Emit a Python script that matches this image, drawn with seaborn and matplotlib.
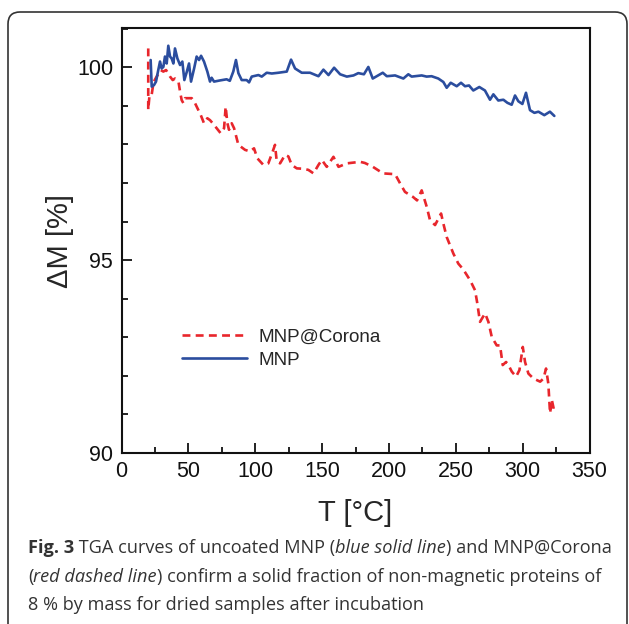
import numpy as np
import pandas as pd
import matplotlib
matplotlib.use("Agg")
import matplotlib.pyplot as plt
import seaborn as sns
from matplotlib.patches import FancyBboxPatch
from matplotlib.transforms import IdentityTransform
from matplotlib.ticker import MultipleLocator

# MNP@Corona (red dashed)
t_corona = [20, 20, 21, 22.6, 24, 26.3, 29.3, 31.3, 33.3, 35, 36.3, 38.3, 40, 42.6, 43.8, 45,
            46.3, 47.5, 50, 52.5, 55, 57.5, 59.3, 61.7, 64.2, 66.2, 68.2, 71.2, 74.2, 76.7,
            77.9, 79.2, 80.4, 82.4, 84.2, 87.4, 92.4, 96.1, 99.1, 101.6, 106.1, 109.8, 113.1,
            114.8, 116.1, 118.6, 122.3, 124.8, 127.3, 131.1, 136.1, 139.8, 143.6, 147.3, 149.8,
            153.5, 158.5, 162.3, 168.5, 178.5, 182, 188, 195.6, 204.6, 209, 212, 218, 221,
            224.5, 228.3, 230.7, 234.5, 239, 240.7, 243.2, 248.2, 251.9, 255.6, 260.7, 264.4,
            266, 268.1, 271.9, 274.4, 276.9, 280.6, 283.1, 285.1, 287.6, 289.4, 291.9, 295.1,
            297.6, 300.1, 301.8, 304.3, 308.1, 313.1, 315.6, 317.5, 319.2, 320.5, 321.8, 323.4]
m_corona = [100.49, 98.9, 99.3, 99.3, 99.62, 99.76, 99.93, 99.89, 99.93, 99.84, 99.76, 99.67,
            99.71, 99.63, 99.37, 99.15, 99.07, 99.2, 99.2, 99.2, 99.07, 98.89, 98.76, 98.55,
            98.68, 98.63, 98.55, 98.42, 98.29, 98.42, 98.98, 98.55, 98.38, 98.55, 98.42, 97.99,
            97.86, 97.82, 97.9, 97.64, 97.47, 97.51, 97.82, 97.99, 97.56, 97.51, 97.73, 97.69,
            97.47, 97.38, 97.37, 97.34, 97.25, 97.47, 97.6, 97.42, 97.68, 97.42, 97.51, 97.55,
            97.52, 97.42, 97.25, 97.23, 96.95, 96.77, 96.64, 96.55, 96.81, 96.38, 96.04, 95.91,
            96.21, 95.95, 95.6, 95.17, 94.91, 94.76, 94.48, 94.22, 93.9, 93.4, 93.62, 93.4,
            93.01, 92.79, 92.79, 92.28, 92.36, 92.28, 92.11, 91.98, 92.15, 92.75, 92.36, 92.06,
            91.93, 91.85, 91.93, 92.19, 91.80, 91.03, 91.38, 91.12]

# uncoated MNP (blue solid)
t_mnp = [21.8, 22.6, 24.3, 25.8, 27.5, 28.8, 30, 31.3, 32.5, 33.8, 35, 36.3, 37.5, 38.8, 40,
         41.8, 43.8, 45.5, 47, 48.8, 50.5, 52, 54.3, 56.2, 58, 59.5, 61.7, 64.2, 66.2, 67.4,
         69.2, 73.6, 78.6, 81, 83.6, 85.6, 87.4, 89.9, 93.6, 95.4, 97.4, 102.4, 104.9, 108.6,
         112.4, 117.4, 123.6, 126.8, 129.8, 134.8, 141, 147.3, 151, 154.8, 159, 163.5, 168.5,
         173.5, 177.1, 181.3, 184.6, 187.9, 195.4, 198.4, 204.6, 210.8, 214.5, 217, 224.5,
         228.2, 231.9, 236.9, 240.7, 243.2, 246.2, 250.7, 253.9, 256.9, 259.9, 263.1, 267.6,
         271.8, 275.6, 278.1, 281.8, 285.6, 288.6, 291.8, 294.3, 296.8, 299.8, 302.5, 305.5,
         308.8, 311.8, 316.2, 320.4, 323.7]
m_mnp = [100.19, 99.5, 99.54, 99.63, 99.93, 100.15, 99.97, 100.01, 100.28, 100.1, 100.56,
         100.28, 100.23, 100.1, 100.49, 100.23, 100.06, 100.15, 99.67, 99.88, 100.1, 99.63,
         99.97, 100.28, 100.19, 100.3, 100.15, 99.89, 99.63, 99.73, 99.63, 99.66, 99.69, 99.65,
         99.89, 100.19, 99.85, 99.67, 99.67, 99.61, 99.76, 99.8, 99.76, 99.86, 99.84, 99.86,
         99.89, 100.2, 99.97, 99.86, 99.86, 99.77, 99.94, 99.8, 99.99, 99.82, 99.76, 99.79,
         99.85, 99.82, 100.01, 99.71, 99.86, 99.77, 99.79, 99.71, 99.82, 99.76, 99.79, 99.76,
         99.77, 99.71, 99.62, 99.47, 99.6, 99.51, 99.6, 99.51, 99.53, 99.4, 99.49, 99.4, 99.16,
         99.3, 99.14, 99.16, 99.08, 99.03, 99.27, 99.12, 99.05, 99.34, 98.89, 98.82, 98.85,
         98.76, 98.85, 98.74]

RED = "#e8262c"
BLUE = "#2b4d9e"

sns.set_theme(style="ticks")
plt.rcParams["font.family"] = ["Liberation Sans", "DejaVu Sans"]

fig = plt.figure(figsize=(6.29, 6.24), dpi=100)
ax = fig.add_axes([121.5 / 629, 1 - 453 / 624, 468 / 629, 425 / 624])

corona = pd.DataFrame({"T": t_corona, "M": m_corona})
mnp = pd.DataFrame({"T": t_mnp, "M": m_mnp})

sns.lineplot(data=corona, x="T", y="M", estimator=None, sort=False, color=RED, lw=1.9,
             linestyle=(0, (3, 2)), label="MNP@Corona", ax=ax)
sns.lineplot(data=mnp, x="T", y="M", estimator=None, sort=False, color=BLUE, lw=1.9,
             label="MNP", ax=ax)

ax.set_xlim(0, 350)
ax.set_ylim(90, 101.02)
ax.xaxis.set_major_locator(MultipleLocator(50))
ax.xaxis.set_minor_locator(MultipleLocator(25))
ax.set_yticks([90, 95, 100])
ax.yaxis.set_minor_locator(MultipleLocator(1))
ax.tick_params(which="both", direction="in", width=1.3, colors="#111111", labelsize=15.5,
               top=False, right=False)
ax.tick_params(which="major", length=7, pad=6)
ax.tick_params(which="minor", length=4)
for s in ax.spines.values():
    s.set_linewidth(1.5)
    s.set_color("#111111")
    s.set_visible(True)

ax.set_xlabel("T [°C]", fontsize=21, labelpad=12)
ax.set_ylabel("ΔM [%]", fontsize=21, labelpad=2)

leg = ax.legend(loc="upper left", bbox_to_anchor=(0.094, 0.333), frameon=False,
                fontsize=13.6, handlelength=3.4, handletextpad=0.65, labelspacing=0.3)

# outer rounded frame (display pixels, origin bottom-left)
frame = FancyBboxPatch((8, -30), 619, 642, boxstyle="round,pad=0,rounding_size=12",
                       transform=IdentityTransform(), fill=False, ec="#333333", lw=1.2)
fig.add_artist(frame)

# caption with mixed bold / italic runs
cap_lines = [
    [("Fig. 3", "bold", "normal"), (" TGA curves of uncoated MNP (", "normal", "normal"),
     ("blue solid line", "normal", "italic"), (") and MNP@Corona", "normal", "normal")],
    [("(", "normal", "normal"), ("red dashed line", "normal", "italic"),
     (") confirm a solid fraction of non-magnetic proteins of", "normal", "normal")],
    [("8 % by mass for dried samples after incubation", "normal", "normal")],
]
cap_y = [548, 577, 605]
fig.canvas.draw()
renderer = fig.canvas.get_renderer()
for runs, yy in zip(cap_lines, cap_y):
    x = 28
    for txt, wt, st in runs:
        t = fig.text(x / 629, 1 - yy / 624, txt, fontsize=13.05, fontweight=wt, fontstyle=st,
                     family=["Open Sans", "DejaVu Sans"], color="#333333", va="center",
                     ha="left")
        x += t.get_window_extent(renderer).width

fig.savefig("out.png", dpi=100)
